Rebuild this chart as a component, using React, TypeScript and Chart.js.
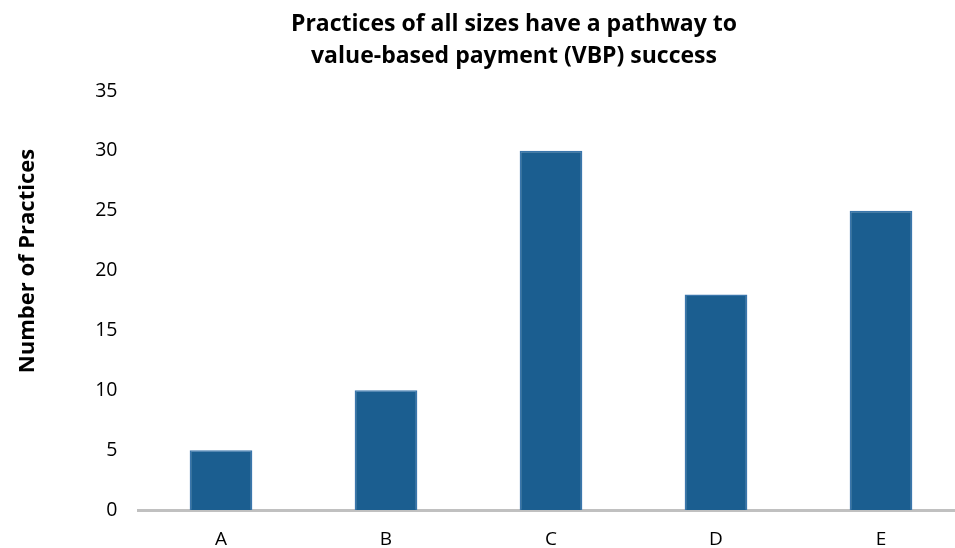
import React, { useEffect, useRef } from "react";
import { Chart, registerables } from "chart.js";

Chart.register(...registerables);

const categories = ["A", "B", "C", "D", "E"];
const practices = [5, 10, 30, 18, 25];
const titleLines = ["Practices of all sizes have a pathway to", "value-based payment (VBP) success"];
const yTitle = "Number of Practices";
const FONT = "'Open Sans', 'DejaVu Sans', sans-serif";

const textPlugin = {
  id: "customText",
  afterDraw(chart: any) {
    const ctx = chart.ctx;
    ctx.save();
    ctx.fillStyle = "#000";
    ctx.font = `bold 23px ${FONT}`;
    ctx.textAlign = "center";
    ctx.textBaseline = "alphabetic";
    ctx.fillText(titleLines[0], 514, 31);
    ctx.fillText(titleLines[1], 514, 63);
    ctx.translate(34, 261);
    ctx.rotate(-Math.PI / 2);
    ctx.font = `bold 22px ${FONT}`;
    ctx.fillText(yTitle, 0, 0);
    ctx.restore();
  },
};

export default function App() {
  const ref = useRef<HTMLCanvasElement>(null);
  useEffect(() => {
    if (!ref.current) return;
    const chart = new Chart(ref.current, {
      type: "bar",
      data: {
        labels: categories,
        datasets: [
          {
            data: practices,
            backgroundColor: "#1b5e90",
            borderColor: "#3a76ac",
            borderWidth: 1.5,
            barPercentage: 0.38,
            categoryPercentage: 1,
          },
        ],
      },
      options: {
        responsive: false,
        animation: false,
        layout: { padding: { top: 91, right: 11.5, left: 0, bottom: 0 } },
        plugins: { legend: { display: false }, tooltip: { enabled: false }, title: { display: false } },
        scales: {
          x: {
            grid: { display: false, drawTicks: false },
            border: { display: true, color: "#c0c0c0", width: 3 },
            ticks: { color: "#000", font: { family: FONT, size: 19 }, padding: 18 },
            afterFit: (s: any) => { s.height = 38; },
          },
          y: {
            min: 0,
            max: 35,
            grid: { display: false, drawTicks: false },
            border: { display: false },
            ticks: { stepSize: 5, color: "#000", font: { family: FONT, size: 19.5 }, padding: 21 },
            afterFit: (s: any) => { s.width = 138.5; },
          },
        },
      },
      plugins: [textPlugin],
    });
    return () => chart.destroy();
  }, []);
  return (
    <div style={{ position: "fixed", left: 0, top: 0, width: 955, height: 548, overflow: "hidden", background: "#fff" }}>
      <canvas ref={ref} width={975} height={548} style={{ display: "block" }} />
    </div>
  );
}
